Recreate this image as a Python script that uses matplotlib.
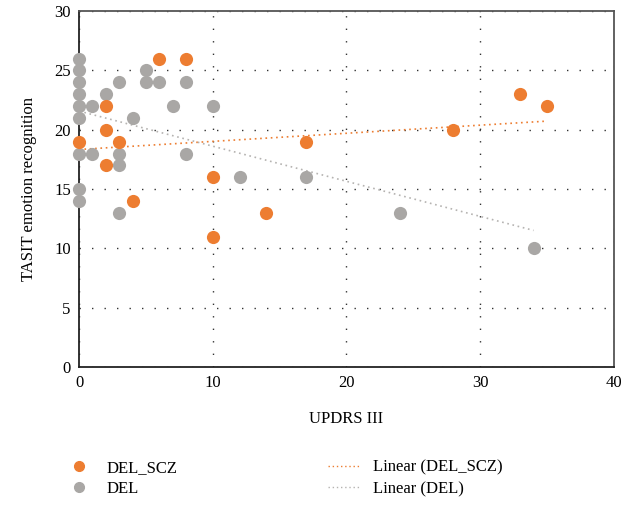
import matplotlib.pyplot as plt
import numpy as np
from matplotlib.lines import Line2D

plt.rcParams['font.family'] = ['Liberation Serif', 'DejaVu Serif']

# DEL_SCZ group
scz_x = [0, 2, 2, 2, 3, 4, 6, 8, 10, 10, 14, 17, 28, 33, 35]
scz_y = [19, 22, 20, 17, 19, 14, 26, 26, 16, 11, 13, 19, 20, 23, 22]

# DEL group
del_x = [0, 0, 0, 0, 0, 0, 0, 0, 0, 1, 1, 2, 3, 3, 3, 3, 4, 5, 5, 6, 7, 8, 8, 10, 12, 17, 24, 34]
del_y = [26, 25, 24, 23, 22, 21, 18, 15, 14, 22, 18, 23, 24, 18, 17, 13, 21, 25, 24, 24, 22, 24, 18, 22, 16, 16, 13, 10]

orange = '#ED7D31'
gray = '#A9A7A5'
trend_gray = '#B5B3B1'

fig = plt.figure(figsize=(6.38, 5.07), dpi=100)
ax = fig.add_axes([0.124, 0.276, 0.838, 0.702])

ax.scatter(del_x, del_y, s=90, color=gray, zorder=3, linewidths=0, clip_on=False)
ax.scatter(scz_x, scz_y, s=90, color=orange, zorder=4, linewidths=0, clip_on=False)

# linear trendlines (Excel style)
for xs, ys, c in [(scz_x, scz_y, orange), (del_x, del_y, trend_gray)]:
    k, b = np.polyfit(xs, ys, 1)
    xx = np.array([min(xs), max(xs)])
    ax.plot(xx, k * xx + b, color=c, linestyle=(0, (1, 2.2)), linewidth=1.2, zorder=2)

ax.set_xlim(0, 40)
ax.set_ylim(0, 30)
ax.set_xticks(np.arange(0, 41, 10))
ax.set_yticks(np.arange(0, 31, 5))
ax.grid(True, color='#333333', linestyle=(0, (1, 8)), linewidth=1.0)
ax.set_axisbelow(True)
ax.tick_params(length=0, labelsize=12, pad=6)

for side in ['left', 'bottom']:
    ax.spines[side].set_color('#222222')
    ax.spines[side].set_linewidth(1.3)
for side in ['top', 'right']:
    ax.spines[side].set_color('#555555')
    ax.spines[side].set_linewidth(1.3)

ax.set_xlabel('UPDRS III', fontsize=12, labelpad=14)
ax.set_ylabel('TASIT emotion recognition', fontsize=12, labelpad=12)

handles = [
    Line2D([], [], marker='o', color=orange, linestyle='none', markersize=7),
    Line2D([], [], marker='o', color=gray, linestyle='none', markersize=7),
    Line2D([], [], color=orange, linestyle=(0, (1, 2)), linewidth=1),
    Line2D([], [], color=trend_gray, linestyle=(0, (1, 2)), linewidth=1),
]
labels = ['DEL_SCZ', 'DEL', 'Linear (DEL_SCZ)', 'Linear (DEL)']
fig.legend(handles, labels, loc='upper left', bbox_to_anchor=(0.097, 0.093),
           ncol=2, frameon=False, fontsize=12, columnspacing=9.0, handlelength=2.0,
           handletextpad=0.7, labelspacing=0.32, borderpad=0, borderaxespad=0)

plt.savefig('out.png', dpi=100)
